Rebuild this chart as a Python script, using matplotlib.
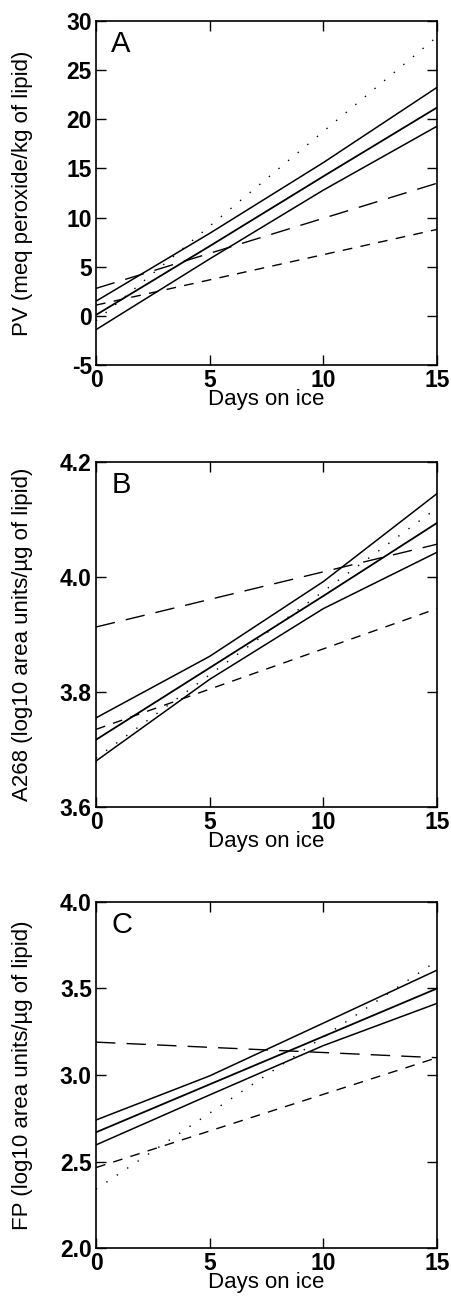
import numpy as np
import matplotlib
matplotlib.use("Agg")
import matplotlib.pyplot as plt

plt.rcParams['font.family'] = ['Liberation Sans', 'DejaVu Sans']
plt.rcParams['axes.unicode_minus'] = False

# days for straight lines and for the fitted line with its band
days = [0, 15]
band_days = [0, 5, 10, 15]

# A - peroxide value
pv_fit = [0.1, 7.1, 14.2, 21.2]
pv_upper = [1.5, 8.4, 15.6, 23.25]
pv_lower = [-1.4, 5.8, 12.8, 19.3]
pv_dotted = [-0.5, 28.4]
pv_longdash = [2.8, 13.5]
pv_shortdash = [1.1, 8.8]

# B - A268
a268_fit = [3.717, 3.842, 3.967, 4.094]
a268_upper = [3.755, 3.862, 3.992, 4.145]
a268_lower = [3.680, 3.822, 3.945, 4.043]
a268_dotted = [3.685, 4.12]
a268_longdash = [3.913, 4.057]
a268_shortdash = [3.735, 3.945]

# C - fluorescent products
fp_fit = [2.669, 2.946, 3.223, 3.5]
fp_upper = [2.74, 2.995, 3.30, 3.606]
fp_lower = [2.596, 2.885, 3.17, 3.414]
fp_dotted = [2.34, 3.66]
fp_longdash = [3.19, 3.10]
fp_shortdash = [2.465, 3.10]

panels = [
    ("A", "PV (meq peroxide/kg of lipid)", pv_fit, pv_upper, pv_lower, pv_dotted, pv_longdash, pv_shortdash,
     (-5, 30), np.arange(-5, 31, 5), "%d"),
    ("B", "A268 (log10 area units/µg of lipid)", a268_fit, a268_upper, a268_lower, a268_dotted, a268_longdash, a268_shortdash,
     (3.6, 4.2), [3.6, 3.8, 4.0, 4.2], "%.1f"),
    ("C", "FP (log10 area units/µg of lipid)", fp_fit, fp_upper, fp_lower, fp_dotted, fp_longdash, fp_shortdash,
     (2.0, 4.0), [2.0, 2.5, 3.0, 3.5, 4.0], "%.1f"),
]

fig = plt.figure(figsize=(4.52, 13.01), dpi=100)
boxes = [[0.2124, 0.7194, 0.7544, 0.2644],
         [0.2124, 0.3797, 0.7544, 0.2652],
         [0.2124, 0.0407, 0.7544, 0.2660]]

for box, (letter, ylab, fit, up, lo, dot, ld, sd, ylim, yt, fmt) in zip(boxes, panels):
    ax = fig.add_axes(box)
    ax.plot(band_days, fit, color="k", lw=1.3)
    ax.plot(band_days, up, color="k", lw=1.1)
    ax.plot(band_days, lo, color="k", lw=1.1)
    ax.plot(days, dot, color="k", lw=1.0, linestyle=(0, (1, 8)))
    ax.plot(days, ld, color="k", lw=1.0, linestyle=(0, (14, 8)))
    ax.plot(days, sd, color="k", lw=1.0, linestyle=(0, (7, 6)))

    ax.set_xlim(0, 15)
    ax.set_ylim(*ylim)
    ax.set_xticks([0, 5, 10, 15])
    ax.set_yticks(yt)
    ax.set_yticklabels([fmt % v for v in yt])
    ax.tick_params(direction="in", length=7, width=1, top=True, right=True,
                   labelsize=16.5, pad=3)
    for lab in ax.get_xticklabels() + ax.get_yticklabels():
        lab.set_fontweight("bold")
    for s in ax.spines.values():
        s.set_linewidth(1.2)

    ax.set_xlabel("Days on ice", fontsize=16, labelpad=-2)
    ax.set_ylabel(ylab, fontsize=16)
    ax.yaxis.set_label_coords(-0.185, 0.5)
    ax.text(0.045, 0.975, letter, transform=ax.transAxes, fontsize=21, va="top", ha="left")

fig.savefig("out.png", dpi=100)
